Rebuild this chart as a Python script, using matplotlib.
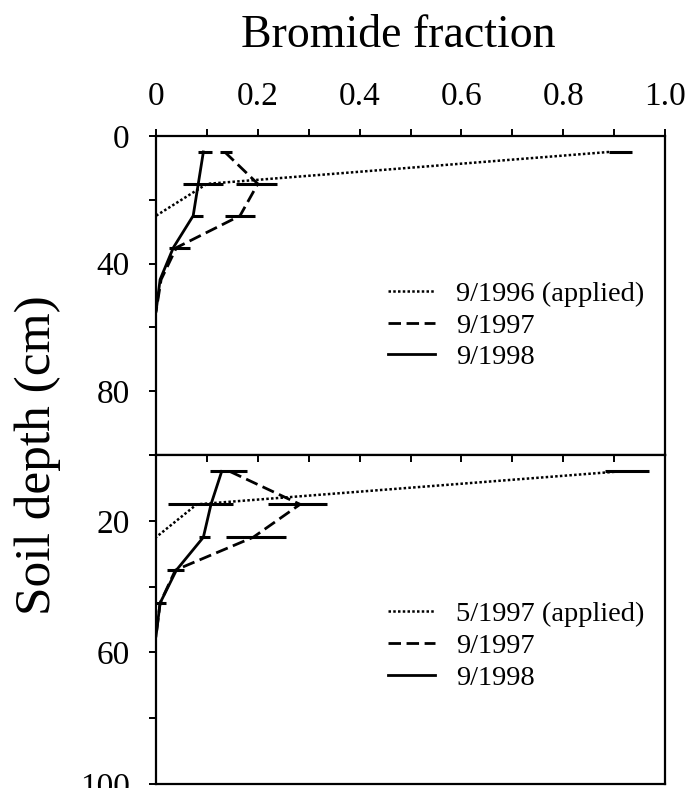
import numpy as np
import matplotlib
matplotlib.use("Agg")
import matplotlib.pyplot as plt

plt.rcParams['font.family'] = ['Liberation Serif', 'DejaVu Serif']

# DATA ------------------------------------------------------------------------

depth = [5, 15, 25, 35, 45, 55]
depth_applied = [5, 15, 25]

# upper panel (application 9/1996)
top_applied = [0.89, 0.10, 0.0]
top_applied_lo = [0.0, 0.0, 0.0]
top_applied_hi = [0.045, 0.0, 0.0]

top_1997 = [0.135, 0.20, 0.165, 0.04, 0.01, 0.0]
top_1997_lo = [0.009, 0.042, 0.03, 0.014, 0.0, 0.0]
top_1997_hi = [0.014, 0.037, 0.03, 0.027, 0.0, 0.0]

top_1998 = [0.093, 0.083, 0.073, 0.034, 0.008, 0.0]
top_1998_lo = [0.01, 0.03, 0.002, 0.0, 0.0, 0.0]
top_1998_hi = [0.016, 0.049, 0.019, 0.0, 0.0, 0.0]

# lower panel (application 5/1997)
bot_applied = [0.91, 0.08, 0.0]
bot_applied_lo = [0.028, 0.0, 0.0]
bot_applied_hi = [0.059, 0.0, 0.0]

bot_1997 = [0.145, 0.283, 0.191, 0.038, 0.008, 0.0]
bot_1997_lo = [0.039, 0.063, 0.054, 0.016, 0.008, 0.0]
bot_1997_hi = [0.033, 0.052, 0.064, 0.016, 0.012, 0.0]

bot_1998 = [0.129, 0.108, 0.093, 0.04, 0.008, 0.0]
bot_1998_lo = [0.0, 0.084, 0.008, 0.0, 0.0, 0.0]
bot_1998_hi = [0.0, 0.043, 0.014, 0.0, 0.0, 0.0]

top_labels = ["9/1996 (applied)", "9/1997", "9/1998"]
bot_labels = ["5/1997 (applied)", "9/1997", "9/1998"]

# FIGURE ----------------------------------------------------------------------

fig = plt.figure(figsize=(6.91, 7.88), dpi=100)
ax1 = fig.add_axes([0.2258, 0.4226, 0.7366, 0.4048])
ax2 = fig.add_axes([0.2258, 0.0051, 0.7366, 0.4175])

dash = (0, (4.5, 2))
dots = (0, (1, 0.9))


def draw_panel(ax, applied, a_lo, a_hi, y97, lo97, hi97, y98, lo98, hi98, labels, leg_y):
    l1, = ax.plot(applied, depth_applied, color="k", ls=dots, lw=1.8)
    l2, = ax.plot(y97, depth, color="k", ls=dash, lw=2.0)
    l3, = ax.plot(y98, depth, color="k", ls="-", lw=2.0)
    ax.errorbar(applied, depth_applied, xerr=[a_lo, a_hi], fmt="none",
                ecolor="k", elinewidth=2.2, capsize=0)
    ax.errorbar(y97, depth, xerr=[lo97, hi97], fmt="none",
                ecolor="k", elinewidth=2.2, capsize=0)
    ax.errorbar(y98, depth, xerr=[lo98, hi98], fmt="none",
                ecolor="k", elinewidth=2.2, capsize=0)
    ax.set_xlim(0, 1.0)
    ax.set_ylim(100, 0)
    for s in ax.spines.values():
        s.set_linewidth(1.6)
    ax.legend([l1, l2, l3], labels, loc="upper left",
              bbox_to_anchor=(0.455, leg_y), frameon=False,
              fontsize=20.5, handlelength=1.65, handletextpad=0.75,
              labelspacing=0.2, borderpad=0, borderaxespad=0)


draw_panel(ax1, top_applied, top_applied_lo, top_applied_hi,
           top_1997, top_1997_lo, top_1997_hi,
           top_1998, top_1998_lo, top_1998_hi, top_labels, 0.545)
draw_panel(ax2, bot_applied, bot_applied_lo, bot_applied_hi,
           bot_1997, bot_1997_lo, bot_1997_hi,
           bot_1998, bot_1998_lo, bot_1998_hi, bot_labels, 0.555)

# upper panel: labelled x ticks on top
ax1.xaxis.tick_top()
ax1.set_xticks(np.arange(0, 1.01, 0.1))
ax1.set_xticklabels(["0", "", "0.2", "", "0.4", "", "0.6", "", "0.8", "", "1.0"])
ax1.tick_params(axis="x", direction="out", length=5, width=1.4, pad=12, labelsize=24)
ax1.set_yticks([0, 20, 40, 60, 80, 100])
ax1.set_yticklabels(["0", "", "40", "", "80", ""])
ax1.tick_params(axis="y", direction="out", length=5, width=1.4, pad=14, labelsize=24)

# lower panel: unlabelled ticks pointing in from the shared edge
ax2.xaxis.tick_top()
ax2.set_xticks(np.arange(0, 1.01, 0.1))
ax2.tick_params(axis="x", direction="in", length=5, width=1.4, labeltop=False)
ax2.set_yticks([0, 20, 40, 60, 80, 100])
ax2.set_yticklabels(["", "20", "", "60", "", "100"])
ax2.tick_params(axis="y", direction="out", length=5, width=1.4, pad=14, labelsize=24)

fig.text(398 / 691, 1 - 36 / 788, "Bromide fraction", ha="center", va="center", fontsize=33)
fig.text(38 / 691, 1 - 455 / 788, "Soil depth (cm)", ha="center", va="center",
         rotation=90, fontsize=37)

fig.savefig("out.png", dpi=100)
